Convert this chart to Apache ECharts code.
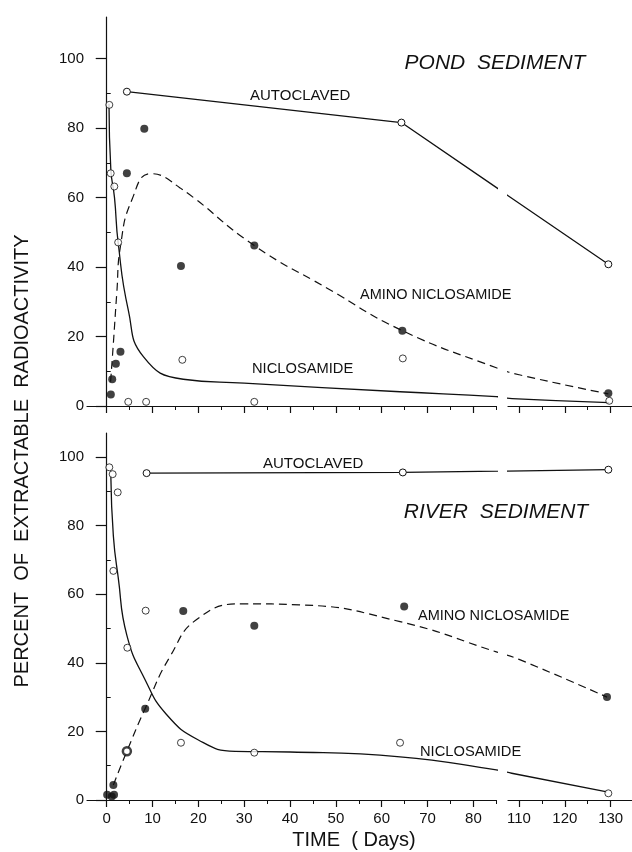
<!DOCTYPE html>
<html>
<head>
<meta charset="utf-8">
<script src="https://cdn.jsdelivr.net/npm/echarts@6/dist/echarts.min.js"></script>
<style>
  html, body { margin: 0; padding: 0; background: #fff; }
  #chart { width: 632px; height: 852px; }
</style>
</head>
<body>
<div id="chart"></div>
<script>
// days are real days; the axis drops 85..105 (break), so days > 85 are shifted by 20
var pondAutoclaved = [[4.4, 90.5], [64.3, 81.6], [129.5, 40.8]];
var pondNiclosamidePts = [[0.57, 86.7], [0.87, 67.0], [1.66, 63.2], [2.5, 47.1], [4.7, 1.2], [8.6, 1.2], [16.5, 13.3], [32.2, 1.2], [64.6, 13.7], [129.7, 1.5]];
var pondAminoPts = [[0.9, 3.3], [1.2, 7.7], [2.0, 12.2], [3.0, 15.6], [4.4, 67.0], [8.2, 79.8], [16.2, 40.3], [32.2, 46.2], [64.5, 21.7], [129.5, 3.7]];
var pondNiclosamideCurve = [[0.5, 87], [0.9, 68], [1.7, 60], [2.5, 47], [4.7, 27.7], [8, 14.2], [16.7, 7.7], [30, 6.6], [64, 4.1], [85, 2.7], [108.5, 2.1], [129.7, 1.0]];
var pondAminoCurve = [[0.85, 7], [1.45, 18], [2.2, 32.5], [3, 46], [5.5, 59.4], [9.6, 66.9], [16, 62.8], [32.2, 46.2], [48, 34], [64.5, 21.7], [85, 11], [110, 9], [129.5, 3.5]];

var riverAutoclaved = [[8.7, 95.3], [64.6, 95.5], [129.5, 96.3]];
var riverNiclosamidePts = [[0.57, 97.0], [1.3, 95.0], [2.4, 89.7], [1.45, 66.8], [8.5, 55.2], [4.5, 44.4], [16.2, 16.7], [32.2, 13.8], [64.0, 16.7], [129.5, 1.95]];
var riverAminoPts = [[0.1, 1.5], [1.1, 1.0], [1.6, 1.5], [1.45, 4.4], [8.4, 26.6], [16.7, 55.1], [32.2, 50.8], [64.9, 56.4], [129.2, 30.0]];
var riverRingPts = [[4.4, 14.2]];
var riverNiclosamideCurve = [[0.9, 94.5], [1.45, 77], [2.5, 65], [4.4, 48], [8.4, 35], [13, 25], [20, 17.5], [28, 14.2], [40, 14], [64, 12.6], [85, 8.8], [108.4, 7.8], [129.2, 2.4]];
var riverAminoCurve = [[1.45, 4.4], [4.4, 14.2], [8.4, 26.7], [13.8, 41.8], [20, 53], [30, 57.2], [42, 56.9], [64, 52], [85, 43.2], [110, 41], [129.2, 30]];

var xMajorLeft = [0, 10, 20, 30, 40, 50, 60, 70, 80];
var xMinorLeft = [5, 15, 25, 35, 45, 55, 65, 75, 85];
var xMajorRight = [110, 120, 130];
var xMinorRight = [115, 125];
var yMajor = [0, 20, 40, 60, 80, 100];
var yMinor = [10, 30, 50, 70, 90];

function tx(d) { return d <= 85 ? d : d - 20; }
function pts(arr) { return arr.map(function (p) { return [tx(p[0]), p[1]]; }); }

var FONT = 'Liberation Sans';
var INK = '#111';

var dom = document.getElementById('chart');
var myChart = echarts.init(dom);

var grids = [
    { left: 87, top: 17, width: 409.3, height: 389 },
    { left: 508, top: 17, width: 124, height: 389 },
    { left: 87, top: 433, width: 409.3, height: 367 },
    { left: 508, top: 433, width: 124, height: 367 }
];

var xAxis = [], yAxis = [];
grids.forEach(function (g, i) {
    var right = i % 2 === 1;
    var bottomPanel = i >= 2;
    var min = right ? 87.6 : -4.3;
    var max = right ? 114.66 : 85;
    var major = (right ? xMajorRight : xMajorLeft).map(tx);
    var minor = (right ? xMinorRight : xMinorLeft).map(tx);
    xAxis.push({
        type: 'value', gridIndex: i, position: 'bottom', min: min, max: max,
        splitLine: { show: false },
        axisLine: { show: true, lineStyle: { color: INK, width: 1.2 } },
        axisTick: { show: true, length: 7, customValues: major, lineStyle: { color: INK, width: 1.2 } },
        axisLabel: {
            show: bottomPanel, customValues: major, margin: 11,
            fontFamily: FONT, fontSize: 15, color: INK,
            formatter: function (v) { return String(Math.round(v > 85 ? v + 20 : v)); }
        }
    });
    xAxis.push({
        type: 'value', gridIndex: i, position: 'bottom', min: min, max: max,
        splitLine: { show: false },
        axisLine: { show: false },
        axisTick: { show: true, length: 4, customValues: minor, lineStyle: { color: INK, width: 1 } },
        axisLabel: { show: false }
    });
    var ymax = bottomPanel ? 107 : 112;
    yAxis.push({
        type: 'value', gridIndex: i, min: 0, max: ymax, show: !right,
        splitLine: { show: false },
        axisLine: { show: true, lineStyle: { color: INK, width: 1.2 } },
        axisTick: { show: true, length: 11, customValues: yMajor, lineStyle: { color: INK, width: 1.2 } },
        axisLabel: { customValues: yMajor, margin: 3, fontFamily: FONT, fontSize: 15, color: INK }
    });
    yAxis.push({
        type: 'value', gridIndex: i, min: 0, max: ymax, show: !right,
        splitLine: { show: false },
        axisLine: { show: false },
        axisTick: { show: true, length: 4, customValues: yMinor, lineStyle: { color: INK, width: 1 } },
        axisLabel: { show: false }
    });
});

var series = [];
function addPanel(panel, autoclaved, niclPts, aminoPts, niclCurve, aminoCurve, ringPts) {
    [0, 1].forEach(function (side) {
        var g = panel * 2 + side;
        var ax = { xAxisIndex: 2 * g, yAxisIndex: 2 * g };
        series.push(Object.assign({
            type: 'line', data: pts(autoclaved), smooth: false,
            symbol: 'circle', symbolSize: 7, showAllSymbol: true,
            lineStyle: { color: INK, width: 1.3 },
            itemStyle: { color: '#fff', borderColor: INK, borderWidth: 1 }, z: 3
        }, ax));
        series.push(Object.assign({
            type: 'line', data: pts(niclCurve), smooth: 0.5,
            showSymbol: false, lineStyle: { color: INK, width: 1.3 }, z: 2
        }, ax));
        series.push(Object.assign({
            type: 'line', data: pts(aminoCurve), smooth: 0.5,
            showSymbol: false, lineStyle: { color: INK, width: 1.2, type: [8, 5] }, z: 2
        }, ax));
        series.push(Object.assign({
            type: 'scatter', data: pts(niclPts), symbol: 'circle', symbolSize: 7,
            itemStyle: { color: '#fff', borderColor: INK, borderWidth: 1 }, z: 4
        }, ax));
        series.push(Object.assign({
            type: 'scatter', data: pts(aminoPts), symbol: 'circle', symbolSize: 8,
            itemStyle: { color: INK }, z: 5
        }, ax));
        if (ringPts) {
            series.push(Object.assign({
                type: 'scatter', data: pts(ringPts), symbol: 'circle', symbolSize: 8,
                itemStyle: { color: '#fff', borderColor: INK, borderWidth: 2.5 }, z: 5
            }, ax));
        }
    });
}
addPanel(0, pondAutoclaved, pondNiclosamidePts, pondAminoPts, pondNiclosamideCurve, pondAminoCurve, null);
addPanel(1, riverAutoclaved, riverNiclosamidePts, riverAminoPts, riverNiclosamideCurve, riverAminoCurve, riverRingPts);

function label(text, x, y, size, opts) {
    return {
        type: 'text', x: x, y: y, z: 10,
        style: Object.assign({
            text: text, fill: INK, font: size + 'px "' + FONT + '"',
            align: 'left', verticalAlign: 'middle'
        }, opts || {})
    };
}

var option = {
    animation: false,
    backgroundColor: '#fff',
    grid: grids,
    xAxis: xAxis,
    yAxis: yAxis,
    series: series,
    graphic: [
        label('POND  SEDIMENT', 495, 63, 21, { align: 'center', font: 'italic 21px "' + FONT + '"' }),
        label('AUTOCLAVED', 250, 96, 15),
        label('AMINO NICLOSAMIDE', 360, 295, 14.5),
        label('NICLOSAMIDE', 252, 369, 14.7),
        label('AUTOCLAVED', 263, 464, 15),
        label('RIVER  SEDIMENT', 496, 512, 21, { align: 'center', font: 'italic 21px "' + FONT + '"' }),
        label('AMINO NICLOSAMIDE', 418, 616, 14.5),
        label('NICLOSAMIDE', 420, 752, 14.7),
        label('TIME  ( Days)', 354, 840, 20, { align: 'center' }),
        {
            type: 'text', x: 22, y: 461, rotation: Math.PI / 2, z: 10,
            style: {
                text: 'PERCENT  OF  EXTRACTABLE  RADIOACTIVITY', fill: INK,
                font: '20px "' + FONT + '"', align: 'center', verticalAlign: 'middle'
            }
        }
    ]
};

if (option && typeof option === 'object') {
    myChart.setOption(option);
}
</script>
</body>
</html>
